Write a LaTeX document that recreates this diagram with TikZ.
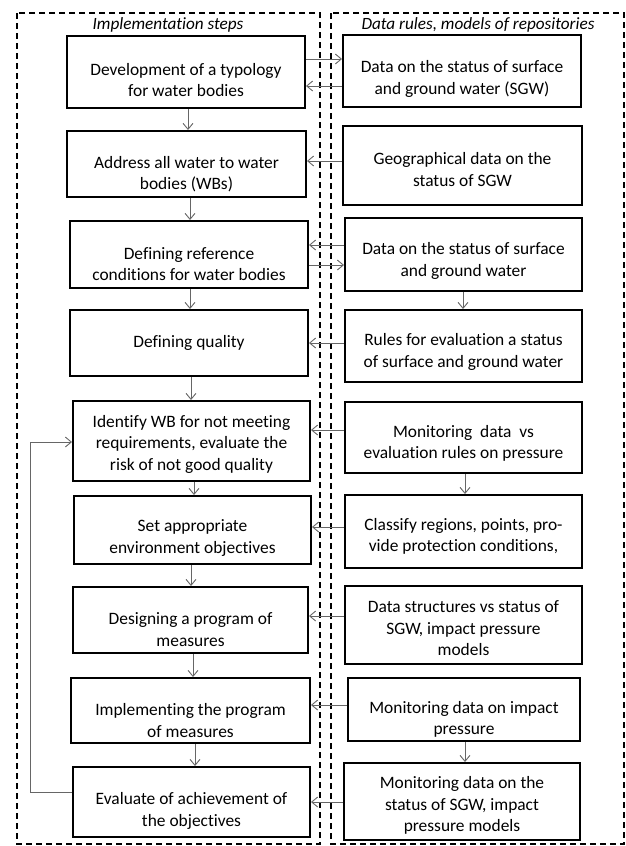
\documentclass[tikz,border=0pt]{standalone}
\usepackage{fontspec}
\setmainfont{Carlito}[Ligatures={NoCommon,NoRequired,NoContextual}]
\usetikzlibrary{arrows.meta}
\newcommand\txtlift[1]{\rule{0pt}{\dimexpr14pt+#1pt*2\relax}}
\begin{document}
\begin{tikzpicture}[x=1pt,y=-1pt,
  box/.style={draw, line width=2pt, align=center, inner sep=0pt, font=\fontsize{17.4}{21.5}\selectfont},
  arr/.style={draw=black!60, line width=0.9pt, -{Straight Barb[length=6pt,width=10pt]}},
  frame/.style={draw, line width=1.3pt, dash pattern=on 6pt off 4pt},
  ttl/.style={font=\itshape\fontsize{17.2}{20}\selectfont}]
\useasboundingbox[fill=white] (0,0) rectangle (626,846);
% frames
\draw[frame] (17,13) rectangle (320,844);
\draw[frame] (331,13) rectangle (624,844);
\node[ttl] (T1) at (168,25) {Implementation steps};
\node[ttl] (T2) at (478,25) {Data rules, models of repositories};
% left column
\node[box, minimum width=238pt, minimum height=72pt] (L1) at (186,72) {\txtlift{7}Development of a typology\\for water bodies};
\node[box, minimum width=239pt, minimum height=66pt] (L2) at (186.5,164) {\txtlift{9}Address all water to water\\bodies (WBs)};
\node[box, minimum width=238pt, minimum height=67pt] (L3) at (189,254.5) {\txtlift{8.5}Defining reference\\conditions for water bodies};
\node[box, minimum width=238pt, minimum height=66pt] (L4) at (189,343) {Defining quality};
\node[box, minimum width=237pt, minimum height=80pt] (L5) at (191.5,441) {\txtlift{2}Identify WB for not meeting\\requirements, evaluate the\\risk of not good quality};
\node[box, minimum width=237pt, minimum height=68pt] (L6) at (192.5,530) {\txtlift{7}Set appropriate\\environment objectives};
\node[box, minimum width=235pt, minimum height=66pt] (L7) at (190.5,620) {\txtlift{8.5}Designing a program of\\measures};
\node[box, minimum width=239pt, minimum height=65pt] (L8) at (190.5,710.5) {\txtlift{9}Implementing the program\\of measures};
\node[box, minimum width=237pt, minimum height=70pt] (L9) at (191.5,802) {\txtlift{8}Evaluate of achievement of\\the objectives};
% right column
\node[box, minimum width=238pt, minimum height=72pt] (R1) at (462,71) {\txtlift{7}Data on the status of surface\\and ground water (SGW)};
\node[box, minimum width=239pt, minimum height=79pt] (R2) at (462.5,165.5) {\txtlift{3}Geographical data on the\\status of SGW};
\node[box, minimum width=237pt, minimum height=73pt] (R3) at (463.5,254.5) {\txtlift{5.5}Data on the status of surface\\and ground water};
\node[box, minimum width=237pt, minimum height=72pt] (R4) at (463.5,346) {\txtlift{5}Rules for evaluation a status\\of surface and ground water};
\node[box, minimum width=237pt, minimum height=71pt] (R5) at (463.5,437.5) {\txtlift{5}Monitoring~ data~ vs\\evaluation rules on pressure};
\node[box, minimum width=237pt, minimum height=73pt] (R6) at (463.5,531.5) {\txtlift{4}Classify regions, points, pro-\\vide protection conditions,};
\node[box, minimum width=237pt, minimum height=78pt] (R7) at (463.5,625) {\txtlift{2.5}Data structures vs status of\\SGW, impact pressure\\models};
\node[box, minimum width=232pt, minimum height=63pt] (R8) at (464,709.5) {\txtlift{9}Monitoring data on impact\\pressure};
\node[box, minimum width=236pt, minimum height=77pt] (R9) at (462,801.5) {\txtlift{3}Monitoring data on the\\status of SGW, impact\\pressure models};
% vertical arrows left
\foreach \a/\b/\xx in {L1/L2/188, L2/L3/190, L3/L4/190, L4/L5/191, L5/L6/194, L6/L7/191, L7/L8/193, L8/L9/195}{
  \draw[arr] (\a.south -| \xx,0) -- (\b.north -| \xx,0);
}
% vertical arrows right
\foreach \a/\b/\xx in {R3/R4/463, R5/R6/465, R8/R9/465}{
  \draw[arr] (\a.south -| \xx,0) -- (\b.north -| \xx,0);
}
% horizontal arrows
\draw[arr] (L1.east |- 0,59) -- (R1.west |- 0,59);
\draw[arr] (R1.west |- 0,86) -- (L1.east |- 0,86);
\draw[arr] (R2.west |- 0,161) -- (L2.east |- 0,161);
\draw[arr] (R3.west |- 0,245) -- (L3.east |- 0,245);
\draw[arr] (L3.east |- 0,265) -- (R3.west |- 0,265);
\draw[arr] (R4.west |- 0,343) -- (L4.east |- 0,343);
\draw[arr] (R5.west |- 0,430) -- (L5.east |- 0,430);
\draw[arr] (R6.west |- 0,527) -- (L6.east |- 0,527);
\draw[arr] (R7.west |- 0,616) -- (L7.east |- 0,616);
\draw[arr] (R8.west |- 0,705) -- (L8.east |- 0,705);
\draw[arr] (R9.west |- 0,802) -- (L9.east |- 0,802);
% feedback loop
\coordinate (fb) at (30,792);
\draw[arr] (L9.west |- fb) -- (fb) |- (L5.west |- 0,442);
\end{tikzpicture}
\end{document}
